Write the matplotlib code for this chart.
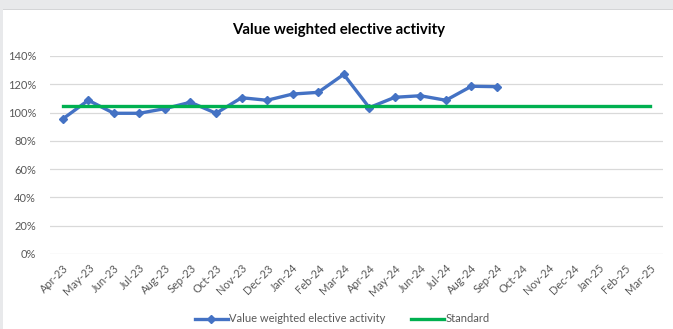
import matplotlib
matplotlib.use('Agg')
import matplotlib.pyplot as plt
from matplotlib.ticker import PercentFormatter
from matplotlib.patches import Rectangle

plt.rcParams['font.family'] = ['Lato', 'DejaVu Sans']

months = ['Apr-23', 'May-23', 'Jun-23', 'Jul-23', 'Aug-23', 'Sep-23', 'Oct-23',
          'Nov-23', 'Dec-23', 'Jan-24', 'Feb-24', 'Mar-24', 'Apr-24', 'May-24',
          'Jun-24', 'Jul-24', 'Aug-24', 'Sep-24', 'Oct-24', 'Nov-24', 'Dec-24',
          'Jan-25', 'Feb-25', 'Mar-25']
activity = [95.5, 108.7, 99.5, 99.5, 102.8, 107.3, 99.5, 110.5, 108.7, 113.1,
            114.3, 127.0, 103.5, 110.8, 111.9, 108.7, 118.6, 118.3]
standard = [105.0] * len(months)

fig = plt.figure(figsize=(6.73, 3.29), dpi=100)
# grey strip along top and left edge, like the sheet behind the chart
fig.patches.append(Rectangle((0, 1 - 9 / 329), 1, 9 / 329, transform=fig.transFigure,
                             facecolor='#e8e9eb', edgecolor='none'))
fig.patches.append(Rectangle((0, 1 - 10 / 329), 1, 1 / 329, transform=fig.transFigure,
                             facecolor='#d4d5d7', edgecolor='none'))
fig.patches.append(Rectangle((0, 0), 3 / 673, 1, transform=fig.transFigure,
                             facecolor='#e8e9eb', edgecolor='none'))

ax = fig.add_axes([50 / 673, 75 / 329, 613 / 673, 198 / 329])
x = list(range(len(months)))
ax.plot(x[:len(activity)], activity, color='#4472C4', lw=2.4, marker='D', ms=4.5,
        label='Value weighted elective activity')
ax.plot(x, standard, color='#00B050', lw=2.4, label='Standard')

ax.set_xlim(-0.5, len(months) - 0.5)
ax.set_ylim(0, 140)
ax.set_yticks(range(0, 141, 20))
ax.yaxis.set_major_formatter(PercentFormatter(decimals=0))
ax.set_xticks(x)
ax.set_xticklabels(months, rotation=45, ha='right', rotation_mode='anchor')
ax.grid(axis='y', color='#d9d9d9', lw=0.9)
ax.set_axisbelow(True)
for s in ax.spines.values():
    s.set_visible(False)
ax.tick_params(length=0, colors='#595959', labelsize=8)
ax.tick_params(axis='x', pad=6)
ax.tick_params(axis='y', pad=10)

fig.text(339 / 673, 1 - 30 / 329, 'Value weighted elective activity', ha='center',
         va='center', fontsize=10.8, fontweight='bold', color='#000000')
fig.legend(loc='center', bbox_to_anchor=(342 / 673, 1 - 319 / 329), ncol=2,
           frameon=False, fontsize=8, labelcolor='#595959', handlelength=3.0,
           handletextpad=0.1, columnspacing=2.3)

fig.savefig('out.png', dpi=100)
